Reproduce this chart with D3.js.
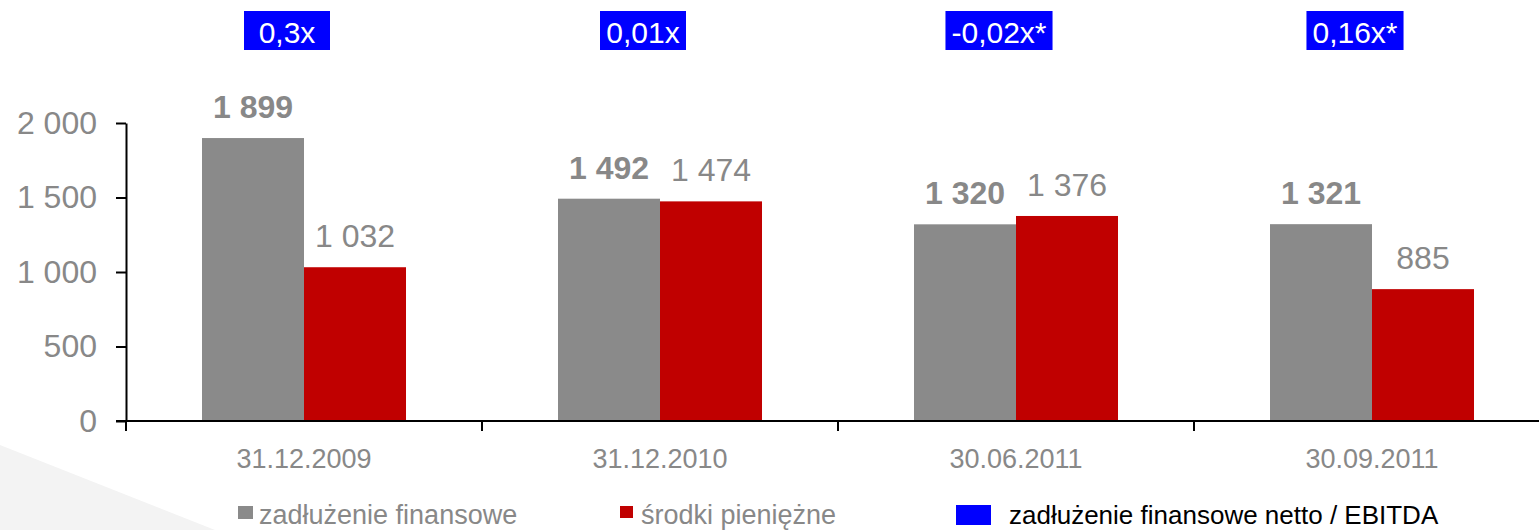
<!DOCTYPE html>
<html>
<head>
<meta charset="utf-8">
<script src="https://cdn.jsdelivr.net/npm/d3@7"></script>
<style>
  body { margin: 0; background: #fff; }
  svg { display: block; font-family: "Liberation Sans", Arial, sans-serif; }
</style>
</head>
<body>
<svg id="chart" width="1539" height="530"></svg>
<script>
const categories = ['31.12.2009', '31.12.2010', '30.06.2011', '30.09.2011']
const debt = [1899, 1492, 1320, 1321]
const cash = [1032, 1474, 1376, 885]
const ratios = ['0,3x', '0,01x', '-0,02x*', '0,16x*']
const seriesNames = ['zadłużenie finansowe', 'środki pieniężne']
const ratioName = 'zadłużenie finansowe netto / EBITDA'
const yTicks = [0, 500, 1000, 1500, 2000]

const grey = '#8a8a8a'
const red = '#c00000'
const blue = '#0000ff'
const textGrey = '#888888'

const fmt = d3.formatLocale({ decimal: ',', thousands: ' ', grouping: [3], currency: ['', ''] }).format(',')

const svg = d3.select('svg#chart')

// faint slide decoration bottom-left
svg.append('path')
  .attr('d', 'M0,445 L215,530 L0,530 Z')
  .attr('fill', '#f3f3f3')

const x0 = d3
  .scaleBand()
  .domain(categories)
  .range([126, 1550])

const x1 = d3
  .scaleBand()
  .domain([0, 1])
  .range([0, x0.bandwidth()])
  .paddingInner(0)
  .paddingOuter(0.745)

const y = d3
  .scaleLinear()
  .domain([0, 2000])
  .range([421, 123])

const rows = categories.map((c, i) => ({ cat: c, debt: debt[i], cash: cash[i], ratio: ratios[i] }))

// bars
const groups = svg.selectAll('g.grp')
  .data(rows)
  .enter()
  .append('g')
  .attr('class', 'grp')
  .attr('transform', d => `translate(${x0(d.cat)},0)`)

groups.append('rect')
  .attr('x', x1(0))
  .attr('width', x1.bandwidth())
  .attr('y', d => y(d.debt))
  .attr('height', d => y(0) - y(d.debt))
  .attr('fill', grey)

groups.append('rect')
  .attr('x', x1(1))
  .attr('width', x1.bandwidth())
  .attr('y', d => y(d.cash))
  .attr('height', d => y(0) - y(d.cash))
  .attr('fill', red)

// value labels
groups.append('text')
  .attr('x', x1(0) + x1.bandwidth() / 2)
  .attr('y', d => y(d.debt) - 20)
  .attr('text-anchor', 'middle')
  .attr('font-size', '32px')
  .attr('font-weight', 'bold')
  .attr('fill', textGrey)
  .text(d => fmt(d.debt))

groups.append('text')
  .attr('x', x1(1) + x1.bandwidth() / 2)
  .attr('y', d => y(d.cash) - 20)
  .attr('text-anchor', 'middle')
  .attr('font-size', '32px')
  .attr('fill', textGrey)
  .text(d => fmt(d.cash))

// ratio boxes
groups.each(function (d) {
  const g = d3.select(this)
  const cx = x0.bandwidth() / 2 - 17
  const box = g.append('rect')
    .attr('y', 11)
    .attr('height', 39)
    .attr('fill', blue)
  const t = g.append('text')
    .attr('x', cx)
    .attr('y', 43)
    .attr('text-anchor', 'middle')
    .attr('font-size', '30px')
    .attr('fill', '#fff')
    .text(d.ratio)
  const w = Math.max(86, t.node().getComputedTextLength() + 12)
  box.attr('x', cx - w / 2).attr('width', w)
})

// y axis
const yAxis = d3.axisLeft(y)
  .tickValues(yTicks)
  .tickSize(10)
  .tickSizeOuter(0)
  .tickPadding(19)
  .tickFormat(fmt)

const ya = svg.append('g')
  .attr('transform', 'translate(126,0)')
  .call(yAxis)
ya.select('.domain').attr('stroke', '#000').attr('stroke-width', 2)
ya.selectAll('.tick line').attr('stroke', '#000').attr('stroke-width', 2)
ya.selectAll('.tick text')
  .attr('font-size', '32px')
  .attr('font-family', '"Liberation Sans", Arial, sans-serif')
  .attr('fill', textGrey)

// x axis
svg.append('line')
  .attr('x1', 116)
  .attr('x2', 1539)
  .attr('y1', y(0))
  .attr('y2', y(0))
  .attr('stroke', '#000')
  .attr('stroke-width', 2)

svg.selectAll('line.xtick')
  .data(categories)
  .enter()
  .append('line')
  .attr('class', 'xtick')
  .attr('x1', d => x0(d))
  .attr('x2', d => x0(d))
  .attr('y1', y(0))
  .attr('y2', y(0) + 10)
  .attr('stroke', '#000')
  .attr('stroke-width', 2)

svg.selectAll('text.xlab')
  .data(categories)
  .enter()
  .append('text')
  .attr('class', 'xlab')
  .attr('x', d => x0(d) + x0.bandwidth() / 2)
  .attr('y', 468)
  .attr('text-anchor', 'middle')
  .attr('font-size', '27px')
  .attr('fill', textGrey)
  .text(d => d)

// legend
const legend = [
  { name: seriesNames[0], color: grey, x: 238, w: 15, h: 13, sy: 506, tx: 259, size: 27, tc: textGrey },
  { name: seriesNames[1], color: red, x: 620, w: 13, h: 12, sy: 506, tx: 641, size: 27, tc: textGrey },
  { name: ratioName, color: blue, x: 956, w: 35, h: 20, sy: 505, tx: 1009, size: 26, tc: '#000' }
]

const lg = svg.selectAll('g.legend')
  .data(legend)
  .enter()
  .append('g')
  .attr('class', 'legend')

lg.append('rect')
  .attr('x', d => d.x)
  .attr('y', d => d.sy)
  .attr('width', d => d.w)
  .attr('height', d => d.h)
  .attr('fill', d => d.color)

lg.append('text')
  .attr('x', d => d.tx)
  .attr('y', 524)
  .attr('font-size', d => d.size + 'px')
  .attr('fill', d => d.tc)
  .text(d => d.name)
</script>
</body>
</html>
